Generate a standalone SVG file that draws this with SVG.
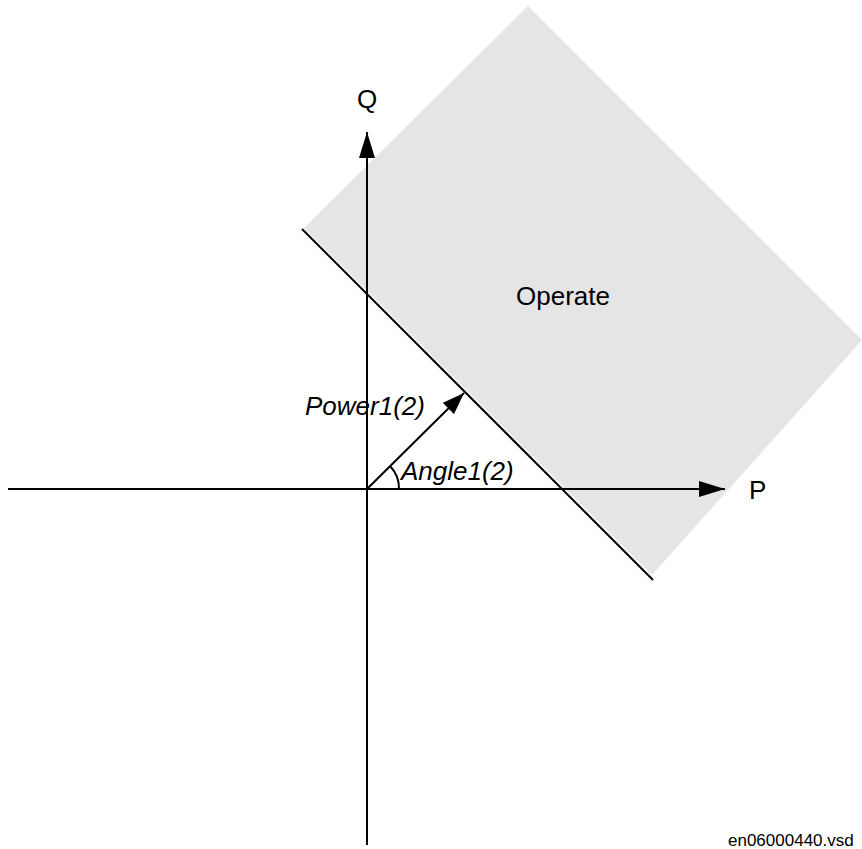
<svg xmlns="http://www.w3.org/2000/svg" width="862" height="849" viewBox="0 0 862 849">
<defs>
<marker id="ah" viewBox="0 0 26 16" refX="26" refY="8" markerWidth="26" markerHeight="16" markerUnits="userSpaceOnUse" orient="auto">
<path d="M0,0 L26,8 L0,16 Z" fill="#000"/>
</marker>
<marker id="ah2" viewBox="0 0 22 16" refX="22" refY="8" markerWidth="22" markerHeight="16" markerUnits="userSpaceOnUse" orient="auto">
<path d="M0,0 L22,8 L0,16 Z" fill="#000"/>
</marker>
</defs>
<style>
text{font-family:"Liberation Sans",Arial,sans-serif;fill:#000}
.lbl{font-size:26px}
.it{font-size:26px;font-style:italic}
.ln{stroke:#000;stroke-width:2;fill:none}
</style>
<rect width="862" height="849" fill="#fff"/>
<g id="operate-region">
<polygon points="304,228 528,6 862,340 652,575" fill="#e5e5e5"/>
<text class="lbl" x="563" y="305" text-anchor="middle">Operate</text>
</g>
<g id="connectors">
<line id="boundary" class="ln" x1="302" y1="229" x2="653" y2="580"/>
<line id="p-axis" class="ln" x1="8" y1="489" x2="725" y2="489" marker-end="url(#ah)"/>
<line id="q-axis" class="ln" x1="367" y1="845" x2="367" y2="132" marker-end="url(#ah)"/>
<line id="power-vector" class="ln" stroke-width="2.5" x1="367" y1="489" x2="464" y2="393" marker-end="url(#ah2)"/>
<path id="angle-arc" class="ln" stroke-width="1.5" d="M390,466 A32,32 0 0 1 399,489"/>
</g>
<g id="q-label"><text class="lbl" x="367" y="108" text-anchor="middle">Q</text></g>
<g id="p-label"><text class="lbl" x="749" y="499">P</text></g>
<g id="power-label"><text class="it" x="305" y="415">Power1(2)</text></g>
<g id="angle-label"><text class="it" x="401" y="480">Angle1(2)</text></g>
<g id="footer"><text x="728" y="846" font-size="17">en06000440.vsd</text></g>
</svg>
